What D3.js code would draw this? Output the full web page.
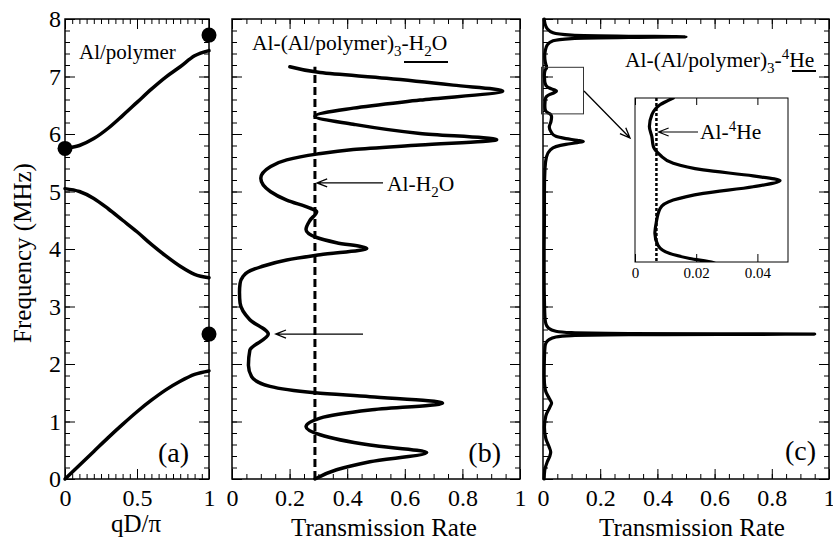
<!DOCTYPE html>
<html>
<head>
<meta charset="UTF-8">
<script src="https://cdn.jsdelivr.net/npm/d3@7"></script>
<style>
body { margin: 0; background: #fff; }
text { font-family: "Liberation Serif", "DejaVu Serif", serif; fill: #000; }
</style>
</head>
<body>
<svg id="fig" width="833" height="544"></svg>
<script>
// ---------------- data ----------------
// (a) dispersion of Al/polymer superlattice
const band_q = [0, 0.1, 0.2, 0.3, 0.4, 0.5, 0.6, 0.7, 0.8, 0.9, 1.0];
const band1  = [0, 0.24, 0.48, 0.72, 0.95, 1.17, 1.37, 1.55, 1.70, 1.82, 1.88];
const band2  = [5.05, 5.00, 4.88, 4.70, 4.50, 4.30, 4.08, 3.88, 3.70, 3.56, 3.50];
const band3  = [5.75, 5.80, 5.92, 6.10, 6.32, 6.55, 6.78, 6.99, 7.17, 7.36, 7.45];
const dot_q  = [0, 1, 1];
const dot_f  = [5.75, 7.72, 2.52];

// (b) Al-(Al/polymer)3-H2O transmission
const b_freq  = [0.00, 0.16, 0.30, 0.46, 0.59, 0.77, 0.91, 1.06, 1.20, 1.32, 1.43, 1.50, 1.61, 1.78, 1.98,
                 2.24, 2.52, 2.77, 3.06, 3.25, 3.40, 3.52, 3.60, 3.69, 3.81, 3.90, 4.01, 4.11, 4.20, 4.34,
                 4.50, 4.65, 4.71, 4.85, 5.00, 5.23, 5.43, 5.55, 5.65, 5.73, 5.81, 5.90, 6.01, 6.17, 6.31,
                 6.45, 6.59, 6.75, 6.85, 6.97, 7.07, 7.17];
const b_trans = [0.288, 0.363, 0.479, 0.676, 0.479, 0.306, 0.257, 0.306, 0.479, 0.731, 0.479, 0.288, 0.132, 0.068, 0.057,
                 0.062, 0.126, 0.062, 0.028, 0.026, 0.028, 0.038, 0.055, 0.100, 0.190, 0.306, 0.468, 0.363, 0.294, 0.257,
                 0.271, 0.294, 0.271, 0.190, 0.133, 0.100, 0.133, 0.190, 0.294, 0.421, 0.653, 0.919, 0.653, 0.421, 0.288,
                 0.421, 0.653, 0.940, 0.768, 0.537, 0.306, 0.201];
const b_ref = 0.288;   // Al-H2O

// (c) Al-(Al/polymer)3-4He transmission
const c_freq  = [0.00, 0.15, 0.30, 0.40, 0.47, 0.55, 0.70, 0.90, 1.10, 1.25, 1.32, 1.40, 1.55, 1.80, 2.10,
                 2.30, 2.36, 2.42, 2.47, 2.495, 2.51, 2.52, 2.53, 2.545, 2.57, 2.62, 2.70, 2.80, 3.10, 3.50,
                 4.00, 4.50, 5.00, 5.40, 5.60, 5.72, 5.78, 5.82, 5.85, 5.87, 5.89, 5.92, 5.96, 6.02, 6.12,
                 6.22, 6.30, 6.347, 6.367, 6.391, 6.432, 6.489, 6.538, 6.611, 6.652, 6.685, 6.717, 6.747, 6.770, 6.799,
                 6.832, 6.872, 6.913, 6.962, 7.011, 7.068, 7.117, 7.15, 7.25, 7.35, 7.45, 7.55, 7.62, 7.66, 7.68,
                 7.69, 7.70, 7.72, 7.76, 7.83, 7.92, 8.00];
const c_trans = [0.004, 0.006, 0.015, 0.024, 0.027, 0.022, 0.010, 0.005, 0.010, 0.024, 0.030, 0.022, 0.008, 0.004, 0.005,
                 0.007, 0.010, 0.020, 0.045, 0.100, 0.300, 0.950, 0.300, 0.100, 0.045, 0.020, 0.010, 0.007, 0.005, 0.004,
                 0.004, 0.005, 0.005, 0.007, 0.012, 0.025, 0.045, 0.080, 0.120, 0.141, 0.120, 0.080, 0.045, 0.030, 0.022,
                 0.028, 0.030, 0.0255, 0.0179, 0.0114, 0.0075, 0.0065, 0.0069, 0.0082, 0.0125, 0.0223, 0.0386, 0.0474, 0.0386, 0.0223,
                 0.0125, 0.0082, 0.0060, 0.0055, 0.0047, 0.0055, 0.0082, 0.0125, 0.008, 0.006, 0.008, 0.015, 0.035, 0.100, 0.300,
                 0.500, 0.300, 0.100, 0.035, 0.015, 0.007, 0.004];
const c_ref = 0.007;   // Al-4He

const a_xmajor = [0, 0.5, 1];
const bc_xmajor = [0, 0.2, 0.4, 0.6, 0.8, 1];
const inset_xmajor = [0, 0.02, 0.04];

// ---------------- layout ----------------
const svg = d3.select("#fig");
const yTop = 19, yBot = 479;
const y = d3.scaleLinear([0, 8], [yBot, yTop]);
const xa = d3.scaleLinear([0, 1], [65, 209]);
const xb = d3.scaleLinear([0, 1], [232, 520]);
const xc = d3.scaleLinear([0, 1], [543, 829]);

function noDomain(g) { g.select(".domain").remove(); g.selectAll(".tick line").attr("stroke", "#000").attr("stroke-width", 1); }

function frame(x, xmajor, xlabels, ylabels) {
  const g = svg.append("g");
  const [x0, x1] = x.range();
  const fmt = d3.format("");
  // bottom / top
  g.append("g").attr("transform", `translate(0,${yBot})`)
    .call(d3.axisBottom(x).tickValues(x.ticks(20)).tickSize(-5).tickFormat("")).call(noDomain);
  g.append("g").attr("transform", `translate(0,${yBot})`)
    .call(d3.axisBottom(x).tickValues(xmajor).tickSize(-10).tickPadding(10).tickFormat(xlabels ? fmt : ""))
    .call(noDomain)
    .selectAll("text").attr("font-size", 24).attr("font-family", null);
  g.append("g").attr("transform", `translate(0,${yTop})`)
    .call(d3.axisTop(x).tickValues(x.ticks(20)).tickSize(-5).tickFormat("")).call(noDomain);
  g.append("g").attr("transform", `translate(0,${yTop})`)
    .call(d3.axisTop(x).tickValues(xmajor).tickSize(-10).tickFormat("")).call(noDomain);
  // left / right
  g.append("g").attr("transform", `translate(${x0},0)`)
    .call(d3.axisLeft(y).ticks(40).tickSize(-5).tickFormat("")).call(noDomain);
  g.append("g").attr("transform", `translate(${x0},0)`)
    .call(d3.axisLeft(y).ticks(8).tickSize(-10).tickPadding(4).tickFormat(ylabels ? fmt : ""))
    .call(noDomain)
    .selectAll("text").attr("font-size", 24).attr("font-family", null);
  g.append("g").attr("transform", `translate(${x1},0)`)
    .call(d3.axisRight(y).ticks(40).tickSize(-5).tickFormat("")).call(noDomain);
  g.append("g").attr("transform", `translate(${x1},0)`)
    .call(d3.axisRight(y).ticks(8).tickSize(-10).tickFormat("")).call(noDomain);
  g.append("rect").attr("x", x0).attr("y", yTop).attr("width", x1 - x0).attr("height", yBot - yTop)
    .attr("fill", "none").attr("stroke", "#000").attr("stroke-width", 1.5);
  return g;
}

function arrow(x1, y1, x2, y2, w) {
  const a = Math.atan2(y2 - y1, x2 - x1), L = 11, s = 0.38;
  const p = d3.path();
  p.moveTo(x1, y1); p.lineTo(x2, y2);
  p.moveTo(x2 - L * Math.cos(a - s), y2 - L * Math.sin(a - s)); p.lineTo(x2, y2);
  p.lineTo(x2 - L * Math.cos(a + s), y2 - L * Math.sin(a + s));
  svg.append("path").attr("d", p.toString()).attr("fill", "none")
    .attr("stroke", "#000").attr("stroke-width", w || 1.3);
}

const curveStyle = s => s.attr("fill", "none").attr("stroke", "#000").attr("stroke-width", 3.5)
  .attr("stroke-linejoin", "round").attr("stroke-linecap", "round");

// ---------------- (a) ----------------
frame(xa, a_xmajor, true, true);
const lineA = d3.line().x(d => xa(d[0])).y(d => y(d[1])).curve(d3.curveMonotoneX);
[band1, band2, band3].forEach(b => {
  svg.append("path").datum(band_q.map((q, i) => [q, b[i]])).attr("d", lineA).call(curveStyle);
});
svg.selectAll("circle.dot").data(dot_q.map((q, i) => [q, dot_f[i]])).join("circle")
  .attr("cx", d => xa(d[0])).attr("cy", d => y(d[1])).attr("r", 7.5).attr("fill", "#000");
svg.append("text").attr("x", 79).attr("y", 59).attr("font-size", 21).text("Al/polymer");
svg.append("text").attr("x", 189).attr("y", 462).attr("font-size", 28).attr("text-anchor", "end").text("(a)");
svg.append("text").attr("x", 136).attr("y", 532).attr("font-size", 25).attr("text-anchor", "middle").text("qD/π");
svg.append("text").attr("transform", "translate(31,253) rotate(-90)").attr("font-size", 25)
  .attr("text-anchor", "middle").text("Frequency (MHz)");

// ---------------- (b) ----------------
frame(xb, bc_xmajor, true, false);
svg.append("line").attr("x1", xb(b_ref)).attr("x2", xb(b_ref)).attr("y1", y(0)).attr("y2", y(7.17))
  .attr("stroke", "#000").attr("stroke-width", 3).attr("stroke-dasharray", "8,4");
const lineB = d3.line().x(d => xb(d[1])).y(d => y(d[0])).curve(d3.curveMonotoneY);
svg.append("path").datum(b_freq.map((f, i) => [f, b_trans[i]])).attr("d", lineB).call(curveStyle);
svg.append("text").attr("x", 501).attr("y", 462).attr("font-size", 28).attr("text-anchor", "end").text("(b)");
svg.append("text").attr("x", 384).attr("y", 536).attr("font-size", 25).attr("text-anchor", "middle").text("Transmission Rate");
const tb = svg.append("text").attr("x", 252).attr("y", 50).attr("font-size", 21.5);
tb.append("tspan").text("Al-(Al/polymer)");
tb.append("tspan").attr("font-size", 15).attr("dy", 6).text("3");
tb.append("tspan").attr("dy", -6).text("-H");
tb.append("tspan").attr("font-size", 15).attr("dy", 6).text("2");
tb.append("tspan").attr("dy", -6).text("O");
svg.append("line").attr("x1", 404).attr("x2", 448).attr("y1", 62).attr("y2", 62).attr("stroke", "#000").attr("stroke-width", 2);
arrow(383, y(5.15), xb(b_ref) + 2, y(5.15));
const tb2 = svg.append("text").attr("x", 387).attr("y", y(5.15) + 8).attr("font-size", 21.5);
tb2.append("tspan").text("Al-H");
tb2.append("tspan").attr("font-size", 15).attr("dy", 6).text("2");
tb2.append("tspan").attr("dy", -6).text("O");
arrow(xb(0.455), y(2.52), xb(0.152), y(2.52));

// ---------------- (c) ----------------
frame(xc, bc_xmajor, true, false);
const lineC = d3.line().x(d => xc(d[1])).y(d => y(d[0])).curve(d3.curveMonotoneY);
svg.append("path").datum(c_freq.map((f, i) => [f, c_trans[i]])).attr("d", lineC).call(curveStyle).attr("stroke-width", 3.2);
svg.append("text").attr("x", 816).attr("y", 460).attr("font-size", 28).attr("text-anchor", "end").text("(c)");
svg.append("text").attr("x", 692).attr("y", 536).attr("font-size", 25).attr("text-anchor", "middle").text("Transmission Rate");
const tc = svg.append("text").attr("x", 625).attr("y", 67).attr("font-size", 21.5);
tc.append("tspan").text("Al-(Al/polymer)");
tc.append("tspan").attr("font-size", 15).attr("dy", 6).text("3");
tc.append("tspan").attr("dy", -6).text("-");
tc.append("tspan").attr("font-size", 15).attr("dy", -8).text("4");
tc.append("tspan").attr("dy", 8).text("He");
svg.append("line").attr("x1", 792).attr("x2", 816).attr("y1", 71).attr("y2", 71).attr("stroke", "#000").attr("stroke-width", 2);

// zoom box in (c)
const fLo = 6.35, fHi = 7.15;
svg.append("rect").attr("x", 541.5).attr("y", y(fHi + 0.01)).attr("width", 42).attr("height", y(fLo) - y(fHi + 0.01))
  .attr("fill", "none").attr("stroke", "#333").attr("stroke-width", 1);
arrow(584, 91, 630, 138);

// inset
const ix = d3.scaleLinear([0, 0.05], [635, 788]);
const iy = d3.scaleLinear([fLo, fHi], [262, 98]);
svg.append("rect").attr("x", 635).attr("y", 98).attr("width", 153).attr("height", 164).attr("fill", "#fff");
svg.append("clipPath").attr("id", "iclip").append("rect").attr("x", 635).attr("y", 98).attr("width", 153).attr("height", 164);
const gi = svg.append("g");
gi.append("g").attr("transform", "translate(0,262)")
  .call(d3.axisBottom(ix).tickValues(inset_xmajor).tickSize(-8).tickPadding(5).tickFormat(d3.format("")))
  .call(noDomain).selectAll("text").attr("font-size", 15).attr("font-family", null);
gi.append("g").attr("transform", "translate(0,98)")
  .call(d3.axisTop(ix).tickValues(inset_xmajor).tickSize(-7).tickFormat("")).call(noDomain);
gi.append("line").attr("x1", ix(c_ref)).attr("x2", ix(c_ref)).attr("y1", 98).attr("y2", 262)
  .attr("stroke", "#000").attr("stroke-width", 2.5).attr("stroke-dasharray", "3,2");
const lineI = d3.line().x(d => ix(d[1])).y(d => iy(d[0])).curve(d3.curveMonotoneY);
gi.append("path").datum(c_freq.map((f, i) => [f, c_trans[i]]).filter(d => d[0] >= 6.3 && d[0] <= 7.2))
  .attr("d", lineI).attr("clip-path", "url(#iclip)").call(curveStyle).attr("stroke-width", 3.2);
gi.append("rect").attr("x", 635).attr("y", 98).attr("width", 153).attr("height", 164)
  .attr("fill", "none").attr("stroke", "#000").attr("stroke-width", 1);
arrow(698, 132, ix(c_ref) + 2, 132, 1.1);
const ti = svg.append("text").attr("x", 700).attr("y", 139).attr("font-size", 21.5);
ti.append("tspan").text("Al-");
ti.append("tspan").attr("font-size", 15).attr("dy", -8).text("4");
ti.append("tspan").attr("dy", 8).text("He");
</script>
</body>
</html>
